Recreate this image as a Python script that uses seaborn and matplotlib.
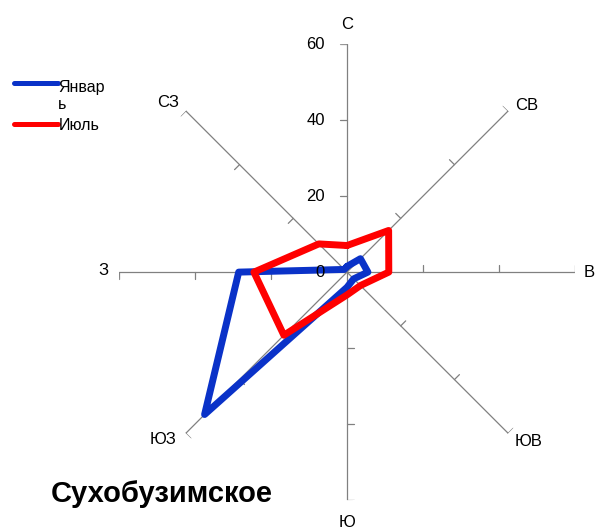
import numpy as np
import pandas as pd
import matplotlib
matplotlib.use("Agg")
import matplotlib.pyplot as plt
import seaborn as sns

# данные розы ветров (повторяемость, %)
directions = ["С", "СВ", "В", "ЮВ", "Ю", "ЮЗ", "З", "СЗ"]
january = [1.5, 5, 5.5, 2.5, 4, 53, 28.5, 1]
july = [7, 15.5, 11, 5, 6, 23.5, 24.5, 10.5]
months = ["Январь", "Июль"]
legend_labels = ["Январ\nь", "Июль"]
radial_ticks = [0, 20, 40, 60]
title = "Сухобузимское"

sns.set_style("white")
plt.rcParams["font.family"] = ["Liberation Sans", "DejaVu Sans"]
plt.rcParams["text.color"] = "black"

angles = np.deg2rad(np.arange(0, 360, 45))
closed = np.append(angles, 2 * np.pi)

rows = []
for month, values in zip(months, [january, july]):
    for th, v in zip(closed, values + values[:1]):
        rows.append({"theta": th, "r": v, "month": month})
df = pd.DataFrame(rows)

fig = plt.figure(figsize=(5.98, 5.32), dpi=100)
ax = fig.add_axes([0.199, 0.060, 0.7625, 0.857], projection="polar")
ax.set_theta_zero_location("N")
ax.set_theta_direction(-1)

# ---------------------------------------------------
# оси-лучи с засечками
# ---------------------------------------------------
axis_color = "#808080"
tick_len = 1.85
for th in angles:
    ax.plot([th, th], [0, 60], color=axis_color, lw=0.9, zorder=1)
    for r in radial_ticks[1:]:
        x0, y0 = r * np.sin(th), r * np.cos(th)
        x1 = x0 - tick_len * np.cos(th)
        y1 = y0 + tick_len * np.sin(th)
        ax.plot([th, np.arctan2(x1, y1)], [r, np.hypot(x1, y1)],
                color=axis_color, lw=0.9, zorder=1)

sns.lineplot(
    data=df,
    x="theta",
    y="r",
    hue="month",
    palette=["#0a32c8", "#ff0000"],
    sort=False,
    estimator=None,
    lw=5,
    solid_joinstyle="round",
    solid_capstyle="round",
    ax=ax,
    zorder=3
)

ax.set_ylim(0, 60)
ax.grid(False)
ax.set_xticks([])
ax.set_yticks([])
ax.set_xlabel("")
ax.set_ylabel("")
ax.spines["polar"].set_visible(False)

# подписи шкалы
for v in radial_ticks:
    ax.annotate(str(v), xy=(0, v), xytext=(-22, 0), textcoords="offset pixels",
                ha="right", va="center", fontsize=12, color="black",
                annotation_clip=False, zorder=5)

# подписи направлений
offsets = [(0, 20, "center"), (7, 5, "left"), (9, 0, "left"), (6, -8, "left"),
           (0, -22, "center"), (-9, -6, "right"), (-10, 2, "right"), (-7, 8, "right")]
for th, name, (dx, dy, ha) in zip(angles, directions, offsets):
    ax.annotate(name, xy=(th, 60), xytext=(dx, dy), textcoords="offset pixels",
                ha=ha, va="center", fontsize=12, color="black",
                annotation_clip=False)

# легенда
handles, _ = ax.get_legend_handles_labels()
ax.get_legend().remove()
leg = fig.legend(
    handles,
    legend_labels,
    loc="upper left",
    bbox_to_anchor=(0.012, 0.862),
    frameon=False,
    fontsize=11.5,
    handlelength=2.8,
    handletextpad=0.0,
    labelspacing=0.35,
    borderaxespad=0
)
for h in leg.legend_handles:
    h.set_linewidth(3.6)
# линия "Январь" стоит на уровне первой строки подписи
y_old = leg.legend_handles[0].get_ydata()
leg.legend_handles[0].set_ydata(np.asarray(y_old) + 9.5)

fig.text(162 / 598, 1 - 494 / 532, title, ha="center", va="center",
         fontsize=21, fontweight="bold")

plt.savefig("out.png", dpi=100)
